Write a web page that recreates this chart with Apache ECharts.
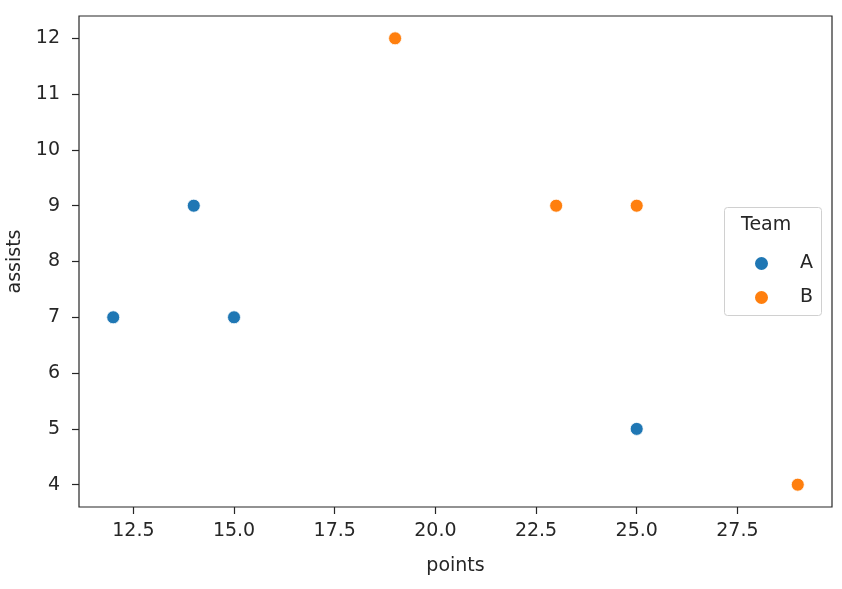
<!DOCTYPE html>
<html>
<head>
<meta charset="utf-8">
<script src="https://cdn.jsdelivr.net/npm/echarts@6/dist/echarts.min.js"></script>
<style>
  html, body { margin: 0; padding: 0; background: #fff; }
  #chart1 { width: 842px; height: 589px; }
</style>
</head>
<body>
<div id="chart1"></div>
<script>
// data
var teamA = [[12, 7], [14, 9], [15, 7], [25, 5]];
var teamB = [[19, 12], [23, 9], [25, 9], [29, 4]];
var xTicks = [12.5, 15, 17.5, 20, 22.5, 25, 27.5];
var yTicks = [4, 5, 6, 7, 8, 9, 10, 11, 12];

var font = 'DejaVu Sans';
var ink = '#262626';
var fs = 19;

var chart = echarts.init(document.getElementById('chart1'));

var option = {
    animation: false,
    textStyle: { fontFamily: font, color: ink },
    grid: {
        left: 79, right: 10, top: 16, bottom: 82,
        outerBoundsMode: 'none',
        containLabel: false,
        show: true, borderColor: ink, borderWidth: 1.2, backgroundColor: '#fff'
    },
    xAxis: {
        type: 'value',
        min: 11.15,
        max: 29.85,
        name: 'points',
        nameLocation: 'middle',
        nameGap: 50,
        nameTextStyle: { fontFamily: font, fontSize: fs, color: ink },
        axisLine: { show: false },
        splitLine: { show: false },
        axisTick: { show: true, length: 7, lineStyle: { color: ink, width: 1.2 }, customValues: xTicks },
        axisLabel: {
            fontFamily: font, fontSize: fs, color: ink, margin: 15,
            customValues: xTicks,
            formatter: function (v) { return v.toFixed(1); }
        }
    },
    yAxis: {
        type: 'value',
        min: 3.6,
        max: 12.4,
        name: 'assists',
        nameLocation: 'middle',
        nameGap: 54,
        nameRotate: 90,
        nameTextStyle: { fontFamily: font, fontSize: fs, color: ink },
        axisLine: { show: false },
        splitLine: { show: false },
        axisTick: { show: true, length: 7, lineStyle: { color: ink, width: 1.2 }, customValues: yTicks },
        axisLabel: {
            fontFamily: font, fontSize: fs, color: ink, margin: 19,
            customValues: yTicks
        }
    },
    legend: {
        orient: 'vertical',
        left: 748,
        top: 249,
        icon: 'circle',
        itemWidth: 15,
        itemHeight: 15,
        itemGap: 15,
        data: ['A', 'B'],
        textStyle: { fontFamily: font, fontSize: fs, color: ink, padding: [0, 0, 0, 26] }
    },
    graphic: [
        {
            type: 'rect', left: 724, top: 207, z: 0,
            shape: { width: 97, height: 108, r: 3 },
            style: { fill: 'rgba(255,255,255,0.8)', stroke: '#d0d0d0', lineWidth: 1 }
        },
        {
            type: 'text', left: 741, top: 216, z: 1,
            style: { text: 'Team', font: fs + 'px "DejaVu Sans"', fill: ink }
        }
    ],
    series: [
        {
            name: 'A', type: 'scatter', data: teamA, symbolSize: 13,
            itemStyle: { color: '#1f77b4', borderColor: '#fff', borderWidth: 0.8, opacity: 1 }
        },
        {
            name: 'B', type: 'scatter', data: teamB, symbolSize: 13,
            itemStyle: { color: '#ff7f0e', borderColor: '#fff', borderWidth: 0.8, opacity: 1 }
        }
    ]
};

chart.setOption(option);
</script>
</body>
</html>
